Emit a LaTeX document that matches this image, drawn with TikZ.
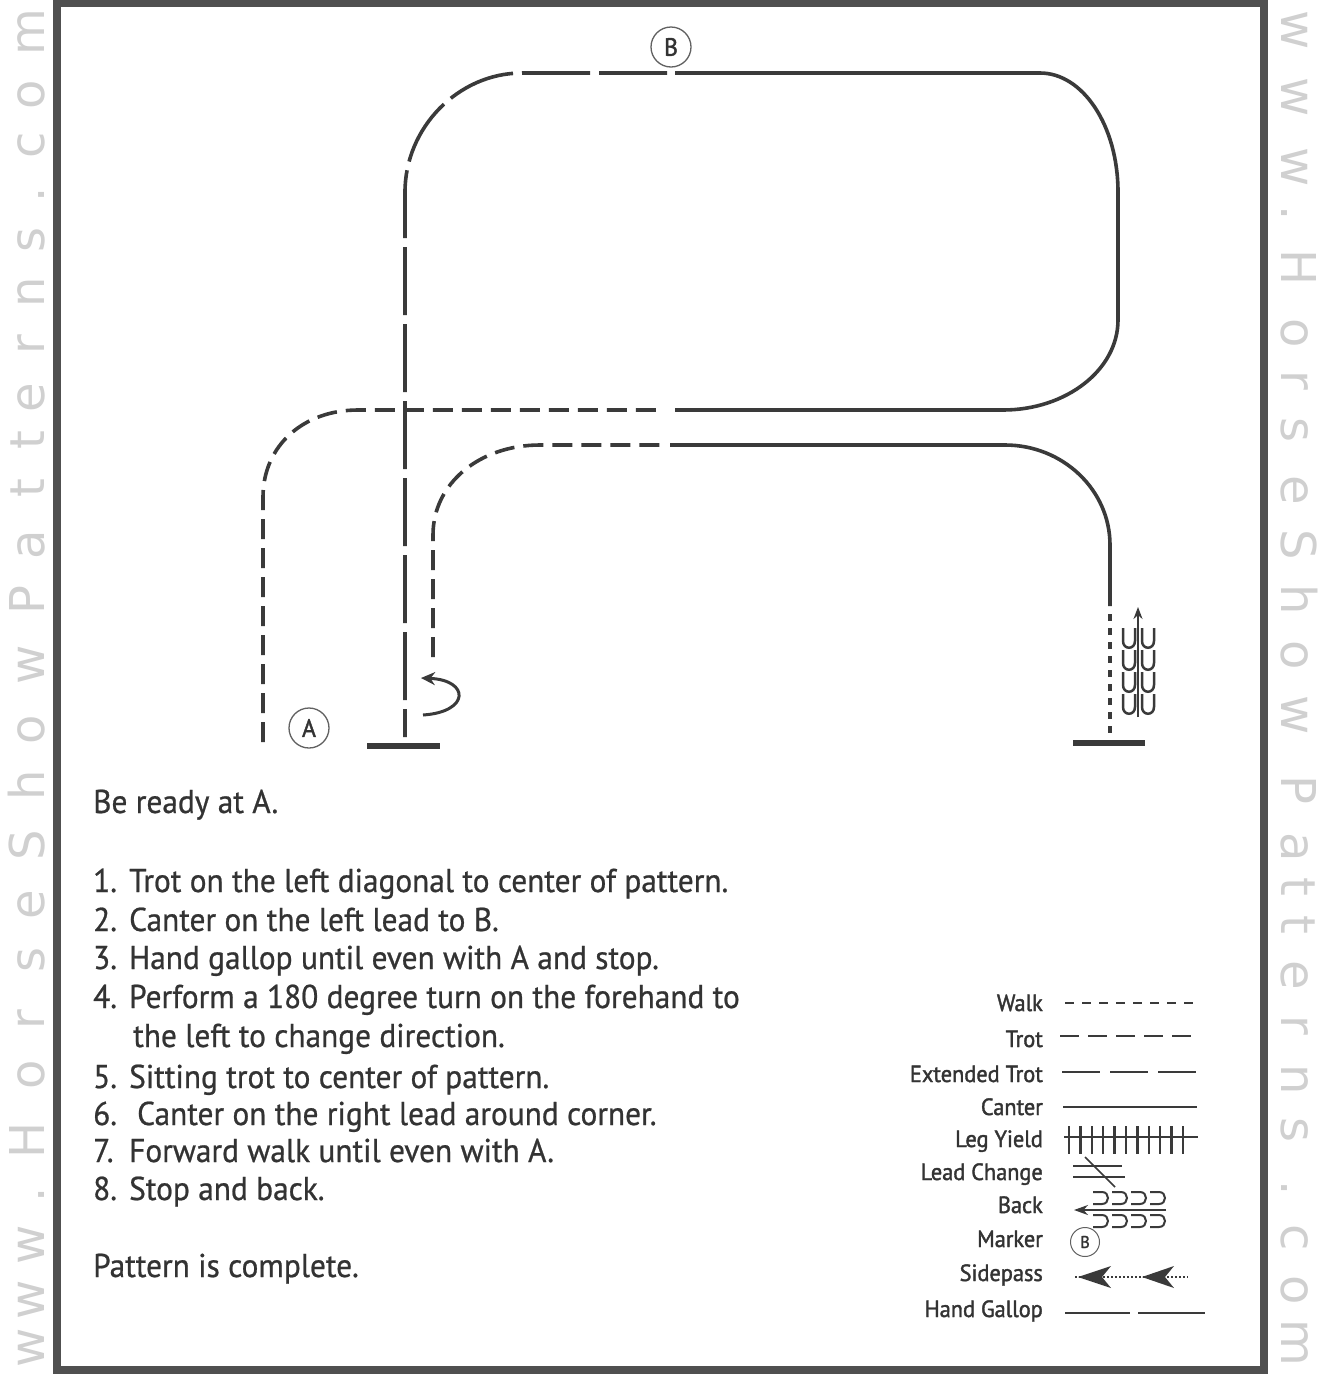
\documentclass[tikz,border=0pt]{standalone}
\usepackage{fontspec}
\setmainfont{PT Sans}[FakeStretch=0.95,FakeBold=0.7]
\newfontfamily\legfont{PT Sans}[FakeStretch=0.95,FakeBold=1.6]
\newfontfamily\wmfont{DejaVu Sans}
\usetikzlibrary{arrows.meta}
\definecolor{ink}{HTML}{3A3A3A}
\definecolor{framec}{HTML}{505050}
\definecolor{wm}{HTML}{D0D0D0}
\definecolor{txt}{HTML}{333333}
\begin{document}
\begin{tikzpicture}[x=1pt,y=-1pt,
  pathline/.style={ink,line width=3.6pt},
  trotline/.style={pathline,dash pattern=on 20pt off 9pt},
  canterline/.style={pathline},
  gallopline/.style={pathline,dash pattern=on 68pt off 9pt},
  walkline/.style={pathline,dash pattern=on 7pt off 7pt},
  stopbar/.style={ink,line width=6pt},
  marker/.style={circle,draw=ink!80,line width=1.3pt,minimum size=40pt,inner sep=0pt,text=txt,font=\legfont\fontsize{25}{25}\selectfont},
  steptext/.style={anchor=base west,inner sep=0pt,text=txt,font=\fontsize{33}{36}\selectfont},
  legtext/.style={anchor=base east,inner sep=0pt,text=txt,font=\legfont\fontsize{23.5}{25}\selectfont},
  legline/.style={ink,line width=2.5pt},
  wmchar/.style={text=wm,font=\wmfont\fontsize{48}{48}\selectfont,inner sep=0pt,anchor=base},
]
\useasboundingbox (0,0) rectangle (1322,1377);
\fill[white] (0,0) rectangle (1322,1377);
% watermark
\foreach \c/\y in {m/32,o/95,c/145,./195,s/240,n/292,r/345,e/398,t/440,t/488,a/545,P/600,w/665,o/730,h/785,S/845,e/905,s/960,r/1020,o/1075,H/1140,./1195,w/1245,w/1300,w/1348}
  \node[wmchar,rotate=90] at (44,\y) {\c};
\foreach \c/\y in {w/30,w/97,w/167,./213,H/268,o/333,r/380,s/430,e/490,S/545,h/600,o/655,w/715,P/790,a/847,t/887,t/925,e/975,r/1025,n/1080,s/1130,./1188,c/1238,o/1290,m/1343}
  \node[wmchar,rotate=-90] at (1281,\y) {\c};
% frame
\draw[framec,line width=8pt] (57,3) rectangle (1264,1370);
% markers
\node[marker] (A) at (309,728) {A};
\node[marker] (B) at (671,47) {B};
% step 1: trot
\draw[trotline] (263,742) -- (263,497) .. controls (263,446) and (303,410) .. (358,410) -- (662,410);
% step 2: canter
\draw[canterline] (675,410) -- (1003,410) .. controls (1066,410) and (1118,370) .. (1118,320) -- (1118,192) .. controls (1118,126) and (1083,73) .. (1040,73) -- (675,73);
% step 3: hand gallop
\draw[gallopline] (667,73) -- (522,73) .. controls (458,73) and (405,128) .. (405,192) -- (405,737);
\draw[stopbar] (367,746) -- (440,746);
% step 4: turn on forehand
\draw[ink,line width=3pt,-{Stealth[length=14pt,width=13pt]}] (423,715) .. controls (470,712) and (470,680) .. (421,678);
% step 5: sitting trot
\draw[trotline] (433,657) -- (433,535) .. controls (433,483) and (480,445) .. (540,445) -- (665,445);
% step 6: canter
\draw[canterline] (670,445) -- (1005,445) .. controls (1063,445) and (1110,490) .. (1110,545) -- (1110,606);
% step 7: walk
\draw[walkline] (1110,614) -- (1110,738);
% step 8: stop and back
\draw[stopbar] (1073,743) -- (1145,743);
\foreach \i in {0,...,3} {
  \draw[ink,line width=2.5pt] (1123,628+22*\i) -- (1123,641+22*\i) .. controls (1123,650+22*\i) and (1135,650+22*\i) .. (1135,641+22*\i) -- (1135,628+22*\i);
  \draw[ink,line width=2.5pt] (1142,628+22*\i) -- (1142,641+22*\i) .. controls (1142,650+22*\i) and (1154,650+22*\i) .. (1154,641+22*\i) -- (1154,628+22*\i);
}
\draw[ink,line width=2pt,-{Stealth[length=12pt,width=9pt]}] (1138,717) -- (1138,607);
% instructions
\node[steptext] (t0) at (93,813) {Be ready at A.};
\node[steptext] (t1) at (93,892) {\makebox[36pt][l]{1.}Trot on the left diagonal to center of pattern.};
\node[steptext] (t2) at (93,931) {\makebox[36pt][l]{2.}Canter on the left lead to B.};
\node[steptext] (t3) at (93,969) {\makebox[36pt][l]{3.}Hand gallop until even with A and stop.};
\node[steptext] (t4) at (93,1008) {\makebox[36pt][l]{4.}Perform a 180 degree turn on the forehand to};
\node[steptext] (t4b) at (133,1047) {the left to change direction.};
\node[steptext] (t5) at (93,1088) {\makebox[36pt][l]{5.}Sitting trot to center of pattern.};
\node[steptext] (t6) at (93,1125) {\makebox[44pt][l]{6.}Canter on the right lead around corner.};
\node[steptext] (t7) at (93,1162) {\makebox[36pt][l]{7.}Forward walk until even with A.};
\node[steptext] (t8) at (93,1200) {\makebox[36pt][l]{8.}Stop and back.};
\node[steptext] (t9) at (93,1277) {Pattern is complete.};
% legend
\node[legtext] (lw) at (1043,1011) {Walk};
\node[legtext] (lt) at (1043,1047) {Trot};
\node[legtext] (le) at (1043,1082) {Extended Trot};
\node[legtext] (lc) at (1043,1115) {Canter};
\node[legtext] (ly) at (1043,1147) {Leg Yield};
\node[legtext] (ll) at (1043,1180) {Lead Change};
\node[legtext] (lb) at (1043,1213) {Back};
\node[legtext] (lm) at (1043,1247) {Marker};
\node[legtext] (ls) at (1043,1281) {Sidepass};
\node[legtext] (lh) at (1043,1317) {Hand Gallop};
\draw[legline,dash pattern=on 9pt off 8pt] (1065,1003) -- (1200,1003);
\draw[legline,dash pattern=on 19pt off 9pt] (1060,1036) -- (1193,1036);
\draw[legline,dash pattern=on 38pt off 10pt] (1062,1072) -- (1196,1072);
\draw[legline] (1063,1107) -- (1197,1107);
\draw[legline] (1064,1137) -- (1198,1137);
\foreach \i in {0,...,10} \draw[ink,line width=2.5pt] (1069+11.4*\i,1126) -- (1069+11.4*\i,1154);
\draw[ink,line width=1.2pt] (1073,1166) -- (1122,1166) (1073,1177) -- (1125,1177);
\draw[ink,line width=1.5pt] (1085,1157) -- (1115,1187);
\foreach \x in {1093,1112,1131,1150} {
  \draw[ink,line width=2pt] (\x,1192) -- (\x+9,1192) .. controls (\x+17,1192) and (\x+17,1204) .. (\x+9,1204) -- (\x,1204);
  \draw[ink,line width=2pt] (\x,1215) -- (\x+9,1215) .. controls (\x+17,1215) and (\x+17,1227) .. (\x+9,1227) -- (\x,1227);
}
\draw[ink,line width=2pt,-{Stealth[length=14pt,width=10pt]}] (1166,1210) -- (1074,1210);
\node[marker,minimum size=29pt,line width=1pt,font=\legfont\fontsize{17}{17}\selectfont] (mk) at (1085,1242) {B};
\draw[ink,line width=1.3pt,dash pattern=on 2pt off 2pt] (1075,1277) -- (1188,1277);
\fill[ink] (1078,1277) -- (1111,1266) -- (1102,1277) -- (1111,1288) -- cycle;
\fill[ink] (1142,1277) -- (1174,1266) -- (1165,1277) -- (1174,1288) -- cycle;
\draw[legline] (1065,1313) -- (1130,1313) (1138,1313) -- (1205,1313);
\end{tikzpicture}
\end{document}
